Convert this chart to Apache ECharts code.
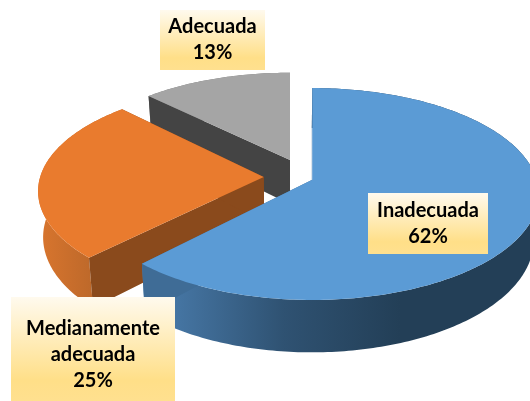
<!DOCTYPE html>
<html>
<head>
<meta charset="utf-8">
<style>
  html, body { margin: 0; padding: 0; background: #fff; overflow: hidden; }
  #chart { width: 530px; height: 401px; }
</style>
<script src="https://cdn.jsdelivr.net/npm/echarts@6/dist/echarts.min.js"></script>
</head>
<body>
<div id="chart"></div>
<script>
// chart data, clockwise from 12 o'clock
const categories = ["Inadecuada", "Medianamente\nadecuada", "Adecuada"];
const values = [62, 25, 13];

// look of the slices: top face, cut wall, rim gradient
const topColors = ["#5B9BD5", "#E97B2E", "#A5A5A5"];
const wallColors = ["#3F6C96", "#8A4A1C", "#444444"];
const rimStops = [
  [[0, "#4C80B2"], [0.55, "#2F5272"], [1, "#233F57"]],
  [[0, "#D8752E"], [1, "#BC682A"]],
  [[0, "#777777"], [1, "#777777"]],
];
const rimRange = [[142, 400], [40, 95], [140, 290]];

// label boxes [left, top, width, height] and the y of their text centre
const boxes = [[368, 193, 120, 61], [11, 297, 164, 104], [160, 10, 105, 60]];
const textY = [224, 355, 40];

// fake perspective of the disc
const originX = 290, originY = 174;
const radiusX = 222.7, radiusY = 102.5, persp = 0.134, depth = 45, lowerScale = 0.98;
// explosion of each slice in disc units
const explode = [[0.1, -0.055], [-0.118, -0.03], [0, 0.139]];
// the 3d view bends the cut lines a little, degrees for start and end of each slice
const viewTurn = [[0, 0], [1.8, 2.8], [1.8, 0]];

const total = values.reduce((a, b) => a + b, 0);

// (ex, ey) is the slice apex, (x, y) a point relative to it
function project(ex, ey, x, y, drop) {
  let s = 1 / (1 + persp * (ey + y));
  let px = originX + radiusX * (ex + x * s);
  let py = originY - radiusY * (ey + y) * s;
  if (drop) {
    px = originX + (px - originX) * lowerScale;
    py += depth * s;
  }
  return [px, py];
}

function renderSlice(params, api) {
  let i = api.value(0);
  let before = 0;
  for (let k = 0; k < i; k++) before += values[k];
  let a0 = (before / total) * Math.PI * 2 + (viewTurn[i][0] * Math.PI) / 180;
  let a1 = ((before + values[i]) / total) * Math.PI * 2 + (viewTurn[i][1] * Math.PI) / 180;
  let ex = explode[i][0], ey = explode[i][1];

  let arc = [], arcLow = [];
  let steps = Math.ceil((a1 - a0) * 60);
  for (let n = 0; n <= steps; n++) {
    let a = a0 + ((a1 - a0) * n) / steps;
    arc.push(project(ex, ey, Math.sin(a), Math.cos(a), false));
    arcLow.push(project(ex, ey, Math.sin(a), Math.cos(a), true));
  }
  let apex = project(ex, ey, 0, 0, false);
  let apexLow = project(ex, ey, 0, 0, true);
  let first = arc[0], firstLow = arcLow[0];
  let last = arc[arc.length - 1], lastLow = arcLow[arcLow.length - 1];

  let rimFill = {
    type: "linear",
    global: true,
    x: rimRange[i][0],
    y: 0,
    x2: rimRange[i][1],
    y2: 0,
    colorStops: rimStops[i].map((s) => ({ offset: s[0], color: s[1] })),
  };

  return {
    type: "group",
    children: [
      {
        type: "polygon",
        shape: { points: arc.concat(arcLow.slice().reverse()) },
        style: { fill: rimFill },
      },
      {
        type: "polygon",
        shape: { points: [apex, first, firstLow, apexLow] },
        style: { fill: wallColors[i] },
      },
      {
        type: "polygon",
        shape: { points: [apex, last, lastLow, apexLow] },
        style: { fill: wallColors[i] },
      },
      {
        type: "polygon",
        shape: { points: [apex].concat(arc) },
        style: { fill: topColors[i] },
      },
    ],
  };
}

const boxFill = {
  type: "linear",
  x: 0,
  y: 0,
  x2: 0,
  y2: 1,
  colorStops: [
    { offset: 0, color: "#FFFAEE" },
    { offset: 0.8, color: "#FFDF88" },
    { offset: 1, color: "#FFE08F" },
  ],
};

const chart = echarts.init(document.getElementById("chart"));
chart.setOption({
  animation: false,
  backgroundColor: "#fff",
  series: [
    {
      type: "custom",
      coordinateSystem: "none",
      // back slices first so the nearer ones cover them
      data: [[2], [1], [0]],
      renderItem: renderSlice,
      silent: true,
    },
  ],
  graphic: categories.map((name, i) => ({
    type: "group",
    z: 100,
    children: [
      {
        type: "rect",
        z: 100,
        shape: { x: boxes[i][0], y: boxes[i][1], width: boxes[i][2], height: boxes[i][3] },
        style: { fill: boxFill },
      },
      {
        type: "text",
        z: 101,
        x: boxes[i][0] + boxes[i][2] / 2,
        y: textY[i],
        style: {
          text: name + "\n" + values[i] + "%",
          fill: "#000",
          font: "bold 20px Lato",
          lineHeight: 26,
          align: "center",
          verticalAlign: "middle",
        },
      },
    ],
  })),
});
</script>
</body>
</html>
